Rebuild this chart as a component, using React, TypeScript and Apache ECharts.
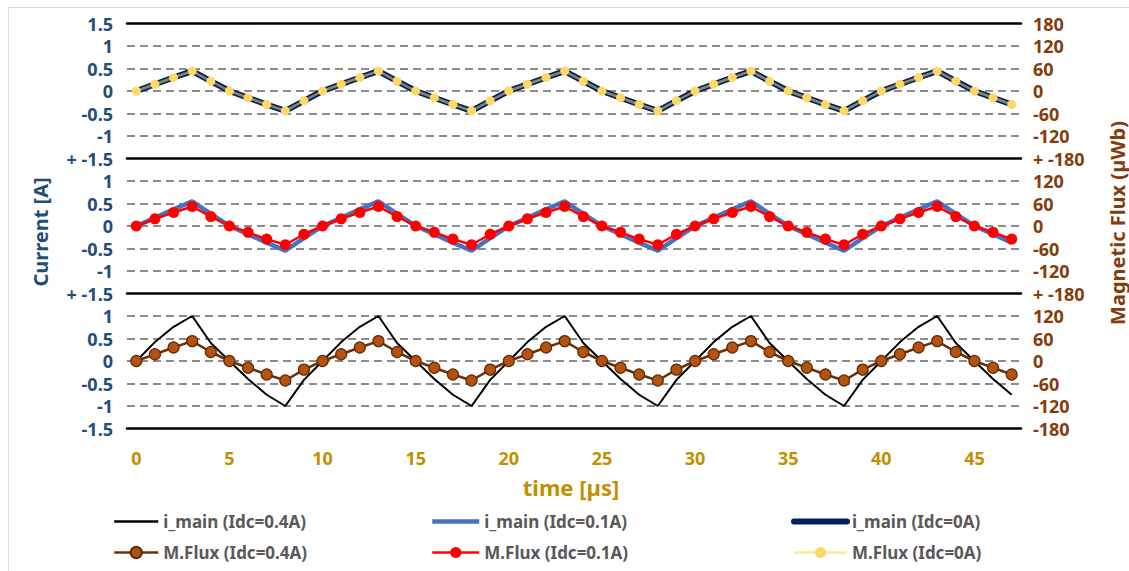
import React, { useEffect, useRef } from "react";
import * as echarts from "echarts";

const timeCats: string[] = [
  "0","1","2","3","4","5","6","7","8","9","10","11","12","13","14","15","16","17","18","19",
  "20","21","22","23","24","25","26","27","28","29","30","31","32","33","34","35","36","37","38","39",
  "40","41","42","43","44","45","46","47",
];

// Top panel (Idc = 0A)
const iMain0: number[] = [
  0, 0.15, 0.3, 0.44, 0.22, 0, -0.15, -0.3, -0.44, -0.22,
  0, 0.15, 0.3, 0.44, 0.22, 0, -0.15, -0.3, -0.44, -0.22,
  0, 0.15, 0.3, 0.44, 0.22, 0, -0.15, -0.3, -0.44, -0.22,
  0, 0.15, 0.3, 0.44, 0.22, 0, -0.15, -0.3, -0.44, -0.22,
  0, 0.15, 0.3, 0.44, 0.22, 0, -0.15, -0.3,
];
const flux0: number[] = [
  0, 18, 36, 53, 26, 0, -18, -36, -53, -26,
  0, 18, 36, 53, 26, 0, -18, -36, -53, -26,
  0, 18, 36, 53, 26, 0, -18, -36, -53, -26,
  0, 18, 36, 53, 26, 0, -18, -36, -53, -26,
  0, 18, 36, 53, 26, 0, -18, -36,
];

// Middle panel (Idc = 0.1A)
const iMain01: number[] = [
  0, 0.18, 0.37, 0.55, 0.27, 0, -0.18, -0.37, -0.55, -0.27,
  0, 0.18, 0.37, 0.55, 0.27, 0, -0.18, -0.37, -0.55, -0.27,
  0, 0.18, 0.37, 0.55, 0.27, 0, -0.18, -0.37, -0.55, -0.27,
  0, 0.18, 0.37, 0.55, 0.27, 0, -0.18, -0.37, -0.55, -0.27,
  0, 0.18, 0.37, 0.55, 0.27, 0, -0.18, -0.37,
];
const flux01: number[] = [
  0, 19, 36, 52, 25, 0, -17, -35, -50, -22,
  0, 19, 36, 52, 25, 0, -17, -35, -50, -22,
  0, 19, 36, 52, 25, 0, -17, -35, -50, -22,
  0, 19, 36, 52, 25, 0, -17, -35, -50, -22,
  0, 19, 36, 52, 25, 0, -17, -35,
];

// Bottom panel (Idc = 0.4A)
const iMain04: number[] = [
  0, 0.42, 0.76, 1.0, 0.4, 0, -0.4, -0.75, -1.0, -0.42,
  0, 0.42, 0.76, 1.0, 0.4, 0, -0.4, -0.75, -1.0, -0.42,
  0, 0.42, 0.76, 1.0, 0.4, 0, -0.4, -0.75, -1.0, -0.42,
  0, 0.42, 0.76, 1.0, 0.4, 0, -0.4, -0.75, -1.0, -0.42,
  0, 0.42, 0.76, 1.0, 0.4, 0, -0.4, -0.75,
];
const flux04: number[] = [
  0, 18, 36, 53, 24, 0, -18, -36, -52, -23,
  0, 18, 36, 53, 24, 0, -18, -36, -52, -23,
  0, 18, 36, 53, 24, 0, -18, -36, -52, -23,
  0, 18, 36, 53, 24, 0, -18, -36, -52, -23,
  0, 18, 36, 53, 24, 0, -18, -36,
];

const FONT = "'Noto Sans', sans-serif";
const BLUE_TXT = "#1F4E79";
const BROWN_TXT = "#843C0C";
const GOLD_TXT = "#BF9000";

export default function App() {
  const ref = useRef<HTMLDivElement>(null);

  useEffect(() => {
    document.body.style.margin = "0";
    if (!ref.current) return;
    const chart = echarts.init(ref.current, undefined, { renderer: "svg" });

    const tops = [23.5, 158.5, 293.5];
    const H = 135;
    const grids = tops.map((t) => ({ left: 127, right: 108, top: t, height: H }));

    const splitDashed = {
      show: true,
      showMinLine: false,
      showMaxLine: false,
      lineStyle: { color: "#8C8C8C", width: 2, type: [8, 5] as any },
    };

    const leftFmt = (panel: number) => (v: number) => {
      if (v === 1.5 && panel > 0) return "";
      if (v === -1.5) return panel < 2 ? "+ -1.5" : "-1.5";
      return String(v);
    };
    const rightFmt = (panel: number) => (v: number) => {
      if (v === 180 && panel > 0) return "";
      if (v === -180) return panel < 2 ? "+ -180" : "-180";
      return String(v);
    };

    const yAxes: any[] = [];
    for (let p = 0; p < 3; p++) {
      yAxes.push({
        type: "value",
        gridIndex: p,
        position: "left",
        min: -1.5,
        max: 1.5,
        interval: 0.5,
        axisLine: { show: false },
        axisTick: { show: false },
        splitLine: splitDashed,
        axisLabel: {
          formatter: leftFmt(p),
          color: BLUE_TXT,
          fontFamily: FONT,
          fontWeight: "bold",
          fontSize: 18,
          margin: 14,
        },
      });
      yAxes.push({
        type: "value",
        gridIndex: p,
        position: "right",
        min: -180,
        max: 180,
        interval: 60,
        axisLine: { show: false },
        axisTick: { show: false },
        splitLine: { show: false },
        axisLabel: {
          formatter: rightFmt(p),
          color: BROWN_TXT,
          fontFamily: FONT,
          fontWeight: "bold",
          fontSize: 18,
          margin: 12,
        },
      });
    }

    const xAxes: any[] = [0, 1, 2].map((p) => ({
      type: "category",
      gridIndex: p,
      position: "bottom",
      data: timeCats,
      boundaryGap: true,
      axisLine: { show: true, onZero: false, lineStyle: { color: "#000000", width: 2.5 } },
      axisTick: { show: false },
      axisLabel:
        p === 2
          ? {
              show: true,
              interval: 4,
              color: GOLD_TXT,
              fontFamily: FONT,
              fontWeight: "bold",
              fontSize: 18,
              margin: 20,
            }
          : { show: false },
      splitLine: { show: false },
    }));
    xAxes.push({
      type: "category",
      gridIndex: 0,
      position: "top",
      data: timeCats,
      boundaryGap: true,
      axisLine: { show: true, onZero: false, lineStyle: { color: "#000000", width: 2.5 } },
      axisTick: { show: false },
      axisLabel: { show: false },
      splitLine: { show: false },
    });

    const noMarker = { color: "rgba(0,0,0,0)", borderWidth: 0 };

    const series: any[] = [
      {
        name: "i_main (Idc=0A)",
        type: "line",
        xAxisIndex: 0,
        yAxisIndex: 0,
        data: iMain0,
        symbol: "circle",
        showSymbol: false,
        lineStyle: { color: "#002060", width: 6, cap: "round", join: "round" },
        itemStyle: noMarker,
      },
      {
        name: "M.Flux (Idc=0A)",
        type: "line",
        xAxisIndex: 0,
        yAxisIndex: 1,
        data: flux0,
        symbol: "circle",
        symbolSize: 9,
        lineStyle: { color: "rgba(255,217,102,0.55)", width: 2.5 },
        itemStyle: { color: "#FFD966", borderWidth: 0 },
      },
      {
        name: "i_main (Idc=0.1A)",
        type: "line",
        xAxisIndex: 1,
        yAxisIndex: 2,
        data: iMain01,
        symbol: "circle",
        showSymbol: false,
        lineStyle: { color: "#4472C4", width: 4.5 },
        itemStyle: noMarker,
      },
      {
        name: "M.Flux (Idc=0.1A)",
        type: "line",
        xAxisIndex: 1,
        yAxisIndex: 3,
        data: flux01,
        symbol: "circle",
        symbolSize: 11,
        lineStyle: { color: "#FF0000", width: 2.5 },
        itemStyle: { color: "#FF0000", borderWidth: 0 },
      },
      {
        name: "i_main (Idc=0.4A)",
        type: "line",
        xAxisIndex: 2,
        yAxisIndex: 4,
        data: iMain04,
        symbol: "circle",
        showSymbol: false,
        lineStyle: { color: "#000000", width: 2 },
        itemStyle: noMarker,
      },
      {
        name: "M.Flux (Idc=0.4A)",
        type: "line",
        xAxisIndex: 2,
        yAxisIndex: 5,
        data: flux04,
        symbol: "circle",
        symbolSize: 11,
        lineStyle: { color: "#6B3108", width: 2.5 },
        itemStyle: { color: "#B4520F", borderColor: "#5E2A06", borderWidth: 1.2 },
      },
    ];

    const legendText = {
      color: "#595959",
      fontFamily: FONT,
      fontWeight: "bold",
      fontSize: 17,
    };
    const mkLegend = (left: number, w: number, items: any[]) => ({
      orient: "vertical",
      left,
      top: 513,
      itemWidth: w,
      itemHeight: 14,
      itemGap: 14,
      padding: 0,
      textStyle: legendText,
      data: items,
      selectedMode: false,
    });

    chart.setOption({
      animation: false,
      backgroundColor: "#FFFFFF",
      grid: grids,
      xAxis: xAxes,
      yAxis: yAxes,
      series,
      legend: [
        mkLegend(113, 44, [
          { name: "i_main (Idc=0.4A)", lineStyle: { width: 2.5, color: "#000000" } },
          { name: "M.Flux (Idc=0.4A)", lineStyle: { width: 2.5, color: "#6B3108" } },
        ]),
        mkLegend(430, 47, [
          { name: "i_main (Idc=0.1A)", lineStyle: { width: 4.5, color: "#4472C4" } },
          { name: "M.Flux (Idc=0.1A)", lineStyle: { width: 2.5, color: "#FF0000" } },
        ]),
        mkLegend(791, 53, [
          { name: "i_main (Idc=0A)", lineStyle: { width: 6, color: "#002060", cap: "round" } },
          { name: "M.Flux (Idc=0A)", lineStyle: { width: 2.5, color: "#FFE699" } },
        ]),
      ],
      graphic: [
        {
          type: "rect",
          silent: true,
          shape: { x: 8.5, y: 7.5, width: 1300, height: 700 },
          style: { fill: "none", stroke: "#D9D9D9", lineWidth: 1 },
          z: -10,
        },
        {
          type: "text",
          x: 40,
          y: 232,
          rotation: Math.PI / 2,
          style: {
            text: "Current [A]",
            fill: BLUE_TXT,
            font: `bold 20px ${FONT}`,
            align: "center",
            verticalAlign: "middle",
            textAlign: "center",
            textVerticalAlign: "middle",
          },
        },
        {
          type: "text",
          x: 1117,
          y: 223,
          rotation: Math.PI / 2,
          style: {
            text: "Magnetic Flux (µWb)",
            fill: BROWN_TXT,
            font: `bold 20px ${FONT}`,
            align: "center",
            verticalAlign: "middle",
            textAlign: "center",
            textVerticalAlign: "middle",
          },
        },
        {
          type: "text",
          x: 571,
          y: 487,
          style: {
            text: "time [µs]",
            fill: GOLD_TXT,
            font: `bold 22px ${FONT}`,
            align: "center",
            verticalAlign: "middle",
            textAlign: "center",
            textVerticalAlign: "middle",
          },
        },
      ],
    });

    return () => {
      chart.dispose();
    };
  }, []);

  return <div ref={ref} style={{ width: 1129, height: 571 }} />;
}
